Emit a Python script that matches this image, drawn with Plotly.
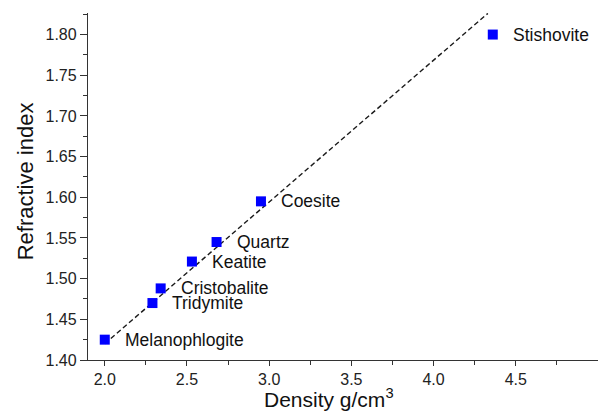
import plotly.graph_objects as go

minerals = ["Melanophlogite", "Tridymite", "Cristobalite", "Keatite", "Quartz", "Coesite", "Stishovite"]
density = [2.00, 2.29, 2.34, 2.53, 2.68, 2.95, 4.36]
refr_index = [1.425, 1.470, 1.488, 1.521, 1.545, 1.595, 1.800]

fit_x = [2.00, 4.33]
fit_y = [1.420, 1.826]

fig = go.Figure()
fig.add_trace(go.Scatter(
    x=fit_x, y=fit_y, mode="lines",
    line=dict(color="#1a1a1a", width=1.4, dash="5px,3px"),
    hoverinfo="skip", showlegend=False,
))
fig.add_trace(go.Scatter(
    x=density, y=refr_index, mode="markers",
    marker=dict(symbol="square", size=10, color="#0000ff", line=dict(width=0)),
    showlegend=False,
))

for name, xv, yv in zip(minerals, density, refr_index):
    fig.add_annotation(
        x=xv, y=yv, text=name, showarrow=False,
        xanchor="left", yanchor="middle", xshift=18,
        font=dict(family="Liberation Sans, Arial", size=17.5, color="#111111"),
    )

fig.add_annotation(
    xref="paper", yref="paper", x=0.4725, y=-0.109,
    text="Density g/cm<sup>3</sup>", showarrow=False,
    xanchor="center", yanchor="middle",
    font=dict(family="Liberation Sans, Arial", size=21, color="#111111"),
)
fig.add_annotation(
    xref="paper", yref="paper", x=-0.1235, y=0.515,
    text="Refractive index", showarrow=False, textangle=-90,
    xanchor="center", yanchor="middle",
    font=dict(family="Liberation Sans, Arial", size=22, color="#111111"),
)

axis_common = dict(
    showgrid=False, zeroline=False, showline=True,
    linecolor="#333333", linewidth=1.3,
    ticks="outside", tickcolor="#333333", tickwidth=1.3,
    tickfont=dict(family="Liberation Sans, Arial", size=16, color="#222222"),
)

fig.update_xaxes(
    range=[1.898, 5.0], tickmode="linear", tick0=2.0, dtick=0.5,
    tickformat=".1f", ticklen=5,
    minor=dict(ticks="outside", tick0=2.0, dtick=0.25, ticklen=4, tickcolor="#333333", tickwidth=1.3),
    **axis_common,
)
fig.update_yaxes(
    range=[1.40, 1.8265], tickmode="linear", tick0=1.40, dtick=0.05,
    tickformat=".2f", ticklen=7,
    minor=dict(ticks="outside", tick0=1.40, dtick=0.025, ticklen=4, tickcolor="#333333", tickwidth=1.3),
    **axis_common,
)

fig.update_layout(
    width=598, height=412,
    margin=dict(l=88, r=0, t=13, b=52),
    plot_bgcolor="white", paper_bgcolor="white",
    font=dict(family="Liberation Sans, Arial"),
)

fig.write_html("out.html")
